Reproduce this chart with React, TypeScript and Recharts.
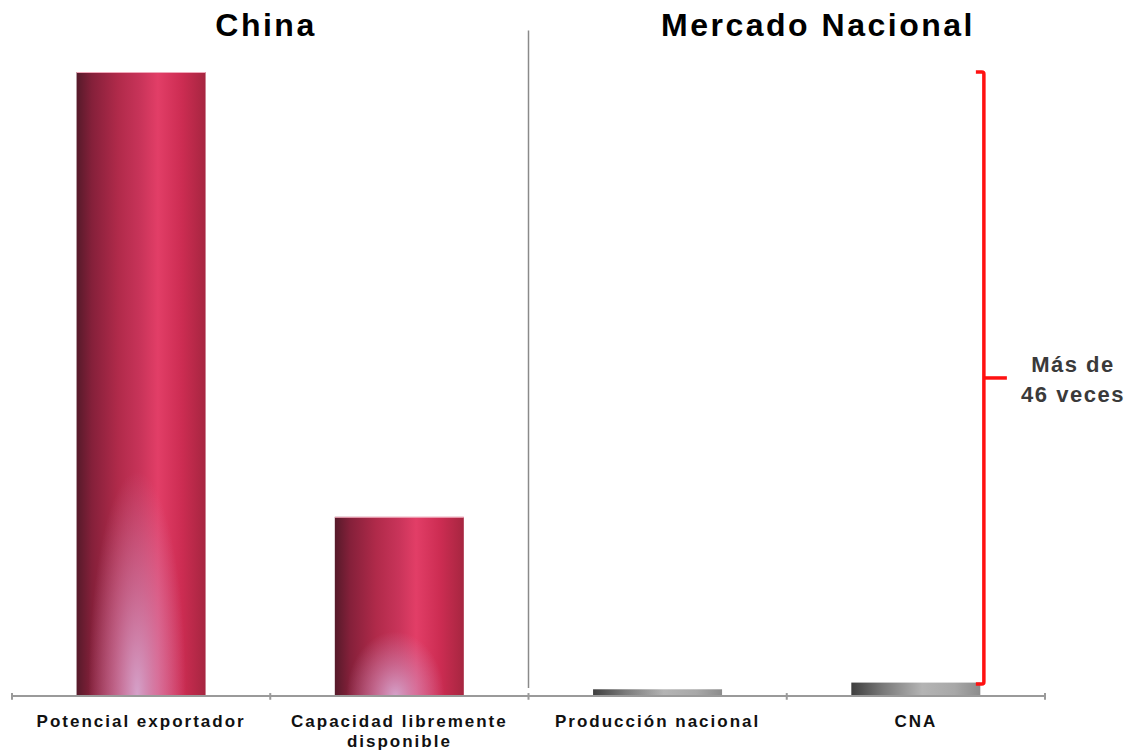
import { Bar, BarChart, ReferenceLine, XAxis, YAxis } from "recharts"

const categories = ["Potencial exportador", "Capacidad libremente\ndisponible", "Producción nacional", "CNA"]
const values = [4650, 1335, 50, 100]
const groups = ["China", "China", "Mercado Nacional", "Mercado Nacional"]
const groupTitles = ["China", "Mercado Nacional"]
const noteLines = ["Más de", "46 veces"]

const data = categories.map((name, i) => ({ name, value: values[i], group: groups[i] }))

const FONT = "'Liberation Sans', Arial, sans-serif"
const RED = "#ff1111"
const AXIS_GREY = "#9a9a9a"

function BarShape(props: any) {
  const { x, y, width, height, index } = props
  if (groups[index] === "China") {
    const glowH = height * 0.36
    return (
      <g>
        <rect x={x} y={y} width={width} height={height} fill="url(#redBody)" />
        <rect x={x} y={y + height - glowH} width={width} height={glowH} fill="url(#redGlow)" />
        <line x1={x} x2={x + width} y1={y + 0.5} y2={y + 0.5} stroke="#f0a8ba" strokeWidth={1} />
      </g>
    )
  }
  return <rect x={x} y={y} width={width} height={height} fill="url(#greyBody)" />
}

function CategoryTick(props: any) {
  const { x, y, payload } = props
  const lines = String(payload.value).split("\n")
  return (
    <text x={x} y={y + 31} textAnchor="middle" fontFamily={FONT} fontWeight="bold" fontSize={17} letterSpacing={2} fill="#111">
      {lines.map((l, i) => (
        <tspan key={i} x={x} dy={i === 0 ? 0 : 20}>
          {l}
        </tspan>
      ))}
    </text>
  )
}

// vertical line half way between two category centres
function Boundary(props: any) {
  const { x1, x2, y1, y2, stroke, strokeWidth } = props
  const mx = (x1 + x2) / 2
  return <line x1={mx} x2={mx} y1={y1} y2={y2} stroke={stroke} strokeWidth={strokeWidth} />
}

// outer boundary tick, half a band beyond the first or last centre
function EdgeTick(props: any) {
  const { x1, x2, y1, y2, side } = props
  const half = (x2 - x1) / 2
  const ex = side === "left" ? x1 - half : x2 + half
  return <line x1={ex} x2={ex} y1={y1} y2={y2} stroke={AXIS_GREY} strokeWidth={2} />
}

// bracket to the right of the CNA bar
function Bracket(props: any) {
  const { x1, y1, y2 } = props
  const bx = x1 + 68
  const my = (y1 + y2) / 2
  return (
    <g stroke={RED} strokeWidth={3.5} fill="none" strokeLinejoin="round">
      <path d={`M ${bx - 8} ${y1} L ${bx - 2} ${y1} Q ${bx} ${y1} ${bx} ${y1 + 2} L ${bx} ${y2 - 2} Q ${bx} ${y2} ${bx - 2} ${y2} L ${bx - 8} ${y2}`} />
      <line x1={bx} x2={bx + 23} y1={my} y2={my} />
    </g>
  )
}

export default function App() {
  const W = 1125
  const H = 743
  return (
    <div style={{ position: "relative", width: W, height: H }}>
      <BarChart width={W} height={H} data={data} margin={{ top: 64, right: 88, left: 4, bottom: 0 }} barCategoryGap="25%">
        <defs>
          <linearGradient id="redBody" x1="0" y1="0" x2="1" y2="0">
            <stop offset="0%" stopColor="#561a2a" />
            <stop offset="12%" stopColor="#85203a" />
            <stop offset="32%" stopColor="#b02a4a" />
            <stop offset="50%" stopColor="#c9345a" />
            <stop offset="63%" stopColor="#e23e67" />
            <stop offset="82%" stopColor="#cc2c52" />
            <stop offset="100%" stopColor="#a62640" />
          </linearGradient>
          <radialGradient
            id="redGlow"
            cx="0.47"
            cy="1"
            r="1"
            fx="0.47"
            fy="1"
            gradientTransform="translate(0.47 1) scale(0.38 1) translate(-0.47 -1)"
          >
            <stop offset="0%" stopColor="#d6a8d0" stopOpacity={0.95} />
            <stop offset="50%" stopColor="#cf94bf" stopOpacity={0.5} />
            <stop offset="100%" stopColor="#cf94bf" stopOpacity={0} />
          </radialGradient>
          <linearGradient id="greyBody" x1="0" y1="0" x2="1" y2="0">
            <stop offset="0%" stopColor="#3e3e3e" />
            <stop offset="25%" stopColor="#7a7a7a" />
            <stop offset="55%" stopColor="#b4b4b4" />
            <stop offset="80%" stopColor="#a8a8a8" />
            <stop offset="100%" stopColor="#8c8c8c" />
          </linearGradient>
        </defs>
        <XAxis
          dataKey="name"
          xAxisId="c"
          interval={0}
          height={55}
          tickLine={false}
          tickSize={0}
          tickMargin={0}
          axisLine={{ stroke: AXIS_GREY, strokeWidth: 2 }}
          tick={<CategoryTick />}
        />
        <YAxis hide domain={[0, 4650]} />
        <Bar dataKey="value" xAxisId="c" shape={<BarShape />} isAnimationActive={false} />

        {[0, 1, 2].map((k) => (
          <ReferenceLine
            key={k}
            xAxisId="c"
            ifOverflow="visible"
            segment={[{ x: categories[k], y: 22 }, { x: categories[k + 1], y: -28 }]}
            stroke={AXIS_GREY}
            strokeWidth={2}
            shape={<Boundary />}
          />
        ))}
        <ReferenceLine
          xAxisId="c"
          ifOverflow="visible"
          segment={[{ x: categories[0], y: 22 }, { x: categories[1], y: -28 }]}
          shape={<EdgeTick side="left" />}
        />
        <ReferenceLine
          xAxisId="c"
          ifOverflow="visible"
          segment={[{ x: categories[2], y: 22 }, { x: categories[3], y: -28 }]}
          shape={<EdgeTick side="right" />}
        />
        <ReferenceLine
          xAxisId="c"
          ifOverflow="visible"
          segment={[{ x: categories[1], y: 4960 }, { x: categories[2], y: 60 }]}
          stroke="#8a8a8a"
          strokeWidth={1.5}
          shape={<Boundary />}
        />
        <ReferenceLine
          xAxisId="c"
          ifOverflow="visible"
          segment={[{ x: categories[3], y: values[0] }, { x: categories[3], y: values[3] - 10 }]}
          shape={<Bracket />}
        />
      </BarChart>
      <svg width={W} height={H} style={{ position: "absolute", left: 0, top: 0, pointerEvents: "none" }}>
        <text x={258} y={28} textAnchor="middle" fontFamily={FONT} fontWeight="bold" fontSize={32} letterSpacing={2.5} fill="#000">
          {groupTitles[0]}
        </text>
        <text x={810} y={28} textAnchor="middle" fontFamily={FONT} fontWeight="bold" fontSize={32} letterSpacing={2.5} fill="#000">
          {groupTitles[1]}
        </text>
        {noteLines.map((l, i) => (
          <text key={i} x={1065} y={364 + i * 30} textAnchor="middle" fontFamily={FONT} fontWeight="bold" fontSize={22} letterSpacing={1.5} fill="#3a3a3a">
            {l}
          </text>
        ))}
      </svg>
    </div>
  )
}
